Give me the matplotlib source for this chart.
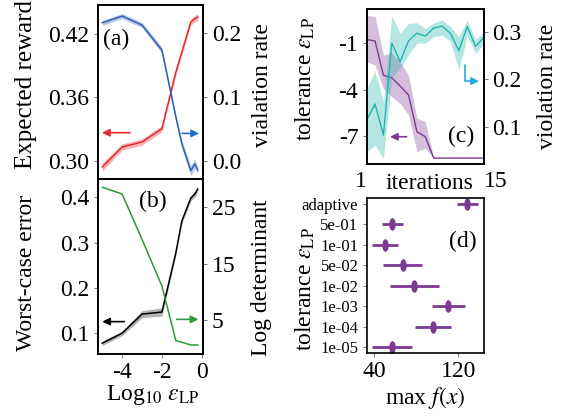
import numpy as np
import matplotlib
matplotlib.use("Agg")
import matplotlib.pyplot as plt

plt.rcParams['font.family'] = ['Liberation Serif', 'DejaVu Serif']
plt.rcParams['mathtext.fontset'] = 'stix'
plt.rcParams['axes.unicode_minus'] = False
plt.rcParams['axes.linewidth'] = 1.2

# ---- (a)/(b): sweep over the LP tolerance ----
log_eps   = [-5, -4, -3, -2, -1.3, -1, -0.55, -0.35, -0.2]
reward    = [0.2943, 0.3132, 0.3179, 0.3305, 0.3838, 0.4026, 0.4309, 0.4341, 0.4356]
reward_sd = [0.004, 0.003, 0.003, 0.003, 0.003, 0.003, 0.003, 0.003, 0.003]
viol      = [0.2167, 0.2273, 0.2131, 0.1736, 0.0684, 0.0264, -0.0158, -0.0052, -0.0147]
viol_sd   = [0.004, 0.004, 0.004, 0.005, 0.005, 0.006, 0.008, 0.007, 0.006]
wc_err    = [0.0778, 0.100, 0.1422, 0.1467, 0.2778, 0.348, 0.3984, 0.4073, 0.4184]
wc_err_sd = [0.005, 0.005, 0.008, 0.009, 0.006, 0.006, 0.006, 0.007, 0.006]
logdet    = [28.6, 27.4, 19.3, 11.0, 1.29, 1.0, 0.52, 0.52, 0.52]

# ---- (c): adaptive tolerance over iterations ----
iters    = list(range(1, 16))
tol_path = [-0.78, -0.87, -3.08, -3.25, -3.78, -4.36, -6.72, -7.04, -8.42, -8.42, -8.42, -8.42, -8.42, -8.42, -8.42]
tol_hi   = [0.78, 0.72, -1.79, -1.64, -2.22, -3.08, -5.86, -6.08, -8.42, -8.42, -8.42, -8.42, -8.42, -8.42, -8.42]
tol_lo   = [-2.22, -2.43, -3.93, -4.47, -4.90, -5.65, -8.01, -7.79, -8.42, -8.42, -8.42, -8.42, -8.42, -8.42, -8.42]
vr_path  = [0.114, 0.148, 0.082, 0.277, 0.238, 0.282, 0.298, 0.292, 0.309, 0.313, 0.298, 0.261, 0.312, 0.270, 0.289]
vr_hi    = [0.181, 0.217, 0.153, 0.335, 0.298, 0.319, 0.320, 0.308, 0.320, 0.326, 0.312, 0.291, 0.325, 0.285, 0.301]
vr_lo    = [0.047, 0.061, 0.033, 0.203, 0.224, 0.252, 0.277, 0.277, 0.291, 0.294, 0.280, 0.220, 0.292, 0.255, 0.277]

# ---- (d): max f(x) per tolerance setting ----
tol_names = ["adaptive", "5e-01", "1e-01", "5e-02", "1e-02", "1e-03", "1e-04", "1e-05"]
fmax    = [128.5, 57.4, 50.4, 67.2, 78.3, 110.5, 96.3, 56.8]
fmax_lo = [119.0, 47.3, 38.4, 48.9, 55.5, 95.0, 78.9, 38.4]
fmax_hi = [138.4, 67.2, 62.8, 85.2, 101.7, 126.3, 113.4, 76.1]

C_RED = "#e8292d"; C_BLUE = "#2f62b5"; C_GREEN = "#2a9a3c"; C_TEAL = "#22b5ad"
C_PURP = "#7d3a93"; C_SKY = "#29a9e1"
FS = 17
EPS = r"$\varepsilon_{\mathrm{LP}}$"

fig = plt.figure(figsize=(5.63, 4.16), dpi=100)

def style(ax):
    ax.tick_params(direction="out", length=3, width=0.7, colors="0.45", labelcolor="black", labelsize=FS, pad=3)

def arrow(ax, tail, head, color, **kw):
    ax.annotate("", xy=head, xytext=tail, xycoords="axes fraction", textcoords="axes fraction",
                arrowprops=dict(arrowstyle="-|>", color=color, lw=1.2, mutation_scale=11, shrinkA=0, shrinkB=0, **kw))

# (a)
axa = fig.add_axes([0.1732, 0.5697, 0.1879, 0.4183])
axa2 = axa.twinx()
r = np.array(reward); rs = np.array(reward_sd)
axa.fill_between(log_eps, r - rs, r + rs, color=C_RED, alpha=0.35, lw=0)
axa.plot(log_eps, reward, color=C_RED, lw=1.1)
v = np.array(viol); vs = np.array(viol_sd)
axa2.fill_between(log_eps, v - vs, v + vs, color=C_BLUE, alpha=0.35, lw=0)
axa2.plot(log_eps, viol, color=C_BLUE, lw=1.1)
axa.set_xlim(-5.24, 0.08); axa.set_ylim(0.283, 0.447); axa2.set_ylim(-0.0289, 0.2447)
axa.set_yticks([0.30, 0.36, 0.42]); axa.set_yticklabels(["0.30", "0.36", "0.42"])
axa2.set_yticks([0.0, 0.1, 0.2]); axa2.set_yticklabels(["0.0", "0.1", "0.2"])
for a in (axa, axa2):
    style(a); a.tick_params(bottom=False, labelbottom=False)
axa.text(0.175, 0.80, "(a)", transform=axa.transAxes, ha="center", va="center", fontsize=FS)
arrow(axa, (0.307, 0.266), (0.0425, 0.266), C_RED)
arrow(axa, (0.80, 0.262), (0.959, 0.262), "#1f6fc9")

# (b)
axb = fig.add_axes([0.1732, 0.149, 0.1879, 0.4207])
axb2 = axb.twinx()
w = np.array(wc_err); ws = np.array(wc_err_sd)
axb.fill_between(log_eps, w - ws, w + ws, color="0.35", alpha=0.45, lw=0)
axb.plot(log_eps, wc_err, color="black", lw=1.1)
axb2.plot(log_eps, logdet, color=C_GREEN, lw=1.1)
axb.set_xlim(-5.24, 0.08); axb.set_ylim(0.054, 0.4407); axb2.set_ylim(-1.09, 30.07)
axb.set_xticks([-4, -2, 0])
axb.set_yticks([0.1, 0.2, 0.3, 0.4]); axb.set_yticklabels(["0.1", "0.2", "0.3", "0.4"])
axb2.set_yticks([5, 15, 25])
style(axb); style(axb2)
axb.text(0.52, 0.874, "(b)", transform=axb.transAxes, ha="center", va="center", fontsize=FS)
arrow(axb, (0.253, 0.185), (0.045, 0.185), "black")
arrow(axb, (0.749, 0.198), (0.953, 0.198), C_GREEN)

# (c)
axc = fig.add_axes([0.6513, 0.6058, 0.2083, 0.3719])
axc2 = axc.twinx()
axc.fill_between(iters, tol_lo, tol_hi, color=C_PURP, alpha=0.32, lw=0)
axc.plot(iters, tol_path, color=C_PURP, lw=1.0)
axc2.fill_between(iters, vr_lo, vr_hi, color=C_TEAL, alpha=0.33, lw=0)
axc2.plot(iters, vr_path, color=C_TEAL, lw=1.0)
axc.set_xlim(1, 15); axc.set_ylim(-8.80, 1.17); axc2.set_ylim(0.021, 0.3487)
axc.set_yticks([-1, -4, -7]); axc2.set_yticks([0.1, 0.2, 0.3])
style(axc); style(axc2)
axc.set_xticks([1, 15]); axc.set_xticklabels(["1", "15"])
axc.tick_params(axis="x", length=0, pad=5)
xl = axc.get_xticklabels(); xl[0].set_ha("right"); xl[1].set_ha("left")
axc.text(0.808, 0.181, "(c)", transform=axc.transAxes, ha="center", va="center", fontsize=FS)
arrow(axc, (0.341, 0.176), (0.199, 0.176), C_PURP)
axc.annotate("", xy=(0.957, 0.536), xytext=(0.838, 0.64), xycoords="axes fraction", textcoords="axes fraction",
             arrowprops=dict(arrowstyle="-|>", color=C_SKY, lw=1.2, mutation_scale=11, shrinkA=0, shrinkB=0,
                             connectionstyle="angle,angleA=-90,angleB=180,rad=0"))

# (d)
axd = fig.add_axes([0.6513, 0.1522, 0.2083, 0.3726])
ypos = np.arange(len(tol_names))[::-1]
fm = np.array(fmax)
xerr = [fm - np.array(fmax_lo), np.array(fmax_hi) - fm]
t = np.linspace(0, 2 * np.pi, 40)
ell = np.column_stack([0.45 * np.cos(t), np.sin(t)])  # tall ellipse marker shape
axd.errorbar(fmax, ypos, xerr=xerr, fmt="none", ecolor=C_PURP, elinewidth=2.0, capsize=0)
axd.plot(fmax, ypos, ls="none", marker=ell, markersize=8, color=C_PURP, mec=C_PURP)
axd.set_xlim(33.1, 144.4); axd.set_ylim(-0.27, 7.3)
axd.set_xticks([40, 120])
axd.set_yticks(ypos); axd.set_yticklabels(tol_names)
style(axd)
axd.tick_params(axis="y", labelsize=12)
axd.text(0.817, 0.717, "(d)", transform=axd.transAxes, ha="center", va="center", fontsize=FS)

# axis labels placed in figure coords
fig.text(0.0462, 0.7957, "Expected reward", rotation=90, ha="center", va="center", fontsize=FS + 1)
fig.text(0.0462, 0.3438, "Worst-case error", rotation=90, ha="center", va="center", fontsize=FS)
fig.text(0.467, 0.7945, "vialation rate", rotation=90, ha="center", va="center", fontsize=FS)
fig.text(0.4636, 0.333, "Log determinant", rotation=90, ha="center", va="center", fontsize=FS)
fig.text(0.272, 0.05, "Log$_{10}$ " + EPS, ha="center", va="center", fontsize=FS)
fig.text(0.542, 0.81, "tolerance " + EPS, rotation=90, ha="center", va="center", fontsize=FS)
fig.text(0.9716, 0.793, "violation rate", rotation=90, ha="center", va="center", fontsize=FS)
fig.text(0.762, 0.56, "iterations", ha="center", va="center", fontsize=FS)
fig.text(0.542, 0.3053, "tolerance " + EPS, rotation=90, ha="center", va="center", fontsize=FS)
fig.text(0.755, 0.043, r"max $f(x)$", ha="center", va="center", fontsize=FS)

fig.savefig("out.png", dpi=100)
